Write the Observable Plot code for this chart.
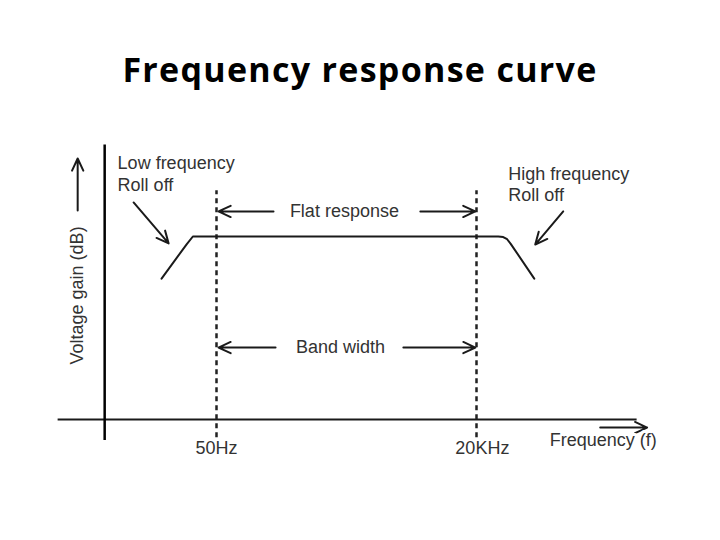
<!DOCTYPE html>
<html>
<head>
<meta charset="utf-8">
<script src="https://cdn.jsdelivr.net/npm/d3@7"></script>
<script src="https://cdn.jsdelivr.net/npm/@observablehq/plot@0.6"></script>
<style>
  html, body { margin: 0; padding: 0; background: #fff; }
  #title { height: 120px; width: 720px; box-sizing: border-box; padding-top: 47px;
    text-align: center; font-family: "Open Sans", Lato, sans-serif; font-weight: bold;
    font-size: 34px; letter-spacing: 1.3px; line-height: 44px; color: #000; }
</style>
</head>
<body>
<div id="title">Frequency response curve</div>
<div id="chart"></div>
<script>
// Response curve (frequency in Hz, relative gain units)
const curveFreq = [14.1, 25, 29, 33000, 37000, 40500, 44000, 75700];
const curveGain = [7.7, 9.56, 10, 10, 9.97, 9.85, 9.6, 7.7];

// Cut-off markers
const cutoffFreq = [50, 20000];
const cutoffLabels = ["50Hz", "20KHz"];
const cutoffLabelFreq = [50, 22900];

// Axes frame
const yAxisFreq = 3.8;
const xAxisFreq = [1.3, 810000];
const yAxisGain = [-1.15, 15];
const dashGain = [-1, 12.5];

// Annotation arrows: [freq1, gain1, freq2, gain2]
const arrowFreq1 = [7.4, 147600, 186, 5483, 195, 3707, 2.04, 346000];
const arrowGain1 = [11.86, 11.37, 11.37, 11.37, 3.93, 3.93, 11.42, -0.44];
const arrowFreq2 = [16.6, 77400, 52.4, 19450, 52.4, 19500, 2.04, 1020000];
const arrowGain2 = [9.62, 9.56, 11.37, 11.37, 3.93, 3.93, 14.26, -0.44];

// Text annotations
const noteTexts = ["Low frequency\nRoll off", "High frequency\nRoll off", "Flat response", "Band width", "Frequency (f)"];
const noteFreq = [5.12, 41600, 953, 869, 371000];
const noteGain = [13.47, 12.9, 11.37, 3.93, -1.15];
const noteAnchor = ["start", "start", "middle", "middle", "middle"];

const yLabel = "Voltage gain (dB)";
const yLabelFreq = 2.04;
const yLabelGain = 6.78;

const curve = curveFreq.map((f, i) => ({f, g: curveGain[i]}));
const arrows = arrowFreq1.map((f, i) => ({f1: f, g1: arrowGain1[i], f2: arrowFreq2[i], g2: arrowGain2[i]}));
const notes = noteTexts.map((t, i) => ({t, f: noteFreq[i], g: noteGain[i], a: noteAnchor[i]}));
const cutoffs = cutoffFreq.map((f, i) => ({f, label: cutoffLabels[i], lf: cutoffLabelFreq[i]}));

const font = "'Liberation Sans', Arial, sans-serif";
const textColor = "#333";
const ink = "#1a1a1a";

const chart = Plot.plot({
  width: 720,
  height: 420,
  margin: 0,
  x: {type: "log", domain: [50, 20000], range: [216, 476], axis: null},
  y: {domain: [0, 10], range: [299, 116], axis: null},
  marks: [
    // axes
    Plot.ruleY([0], {x1: xAxisFreq[0], x2: xAxisFreq[1], stroke: ink, strokeWidth: 2}),
    Plot.ruleX([yAxisFreq], {y1: yAxisGain[0], y2: yAxisGain[1], stroke: "#000", strokeWidth: 2.5}),
    // cutoff dashed lines
    Plot.ruleX(cutoffs, {x: "f", y1: dashGain[0], y2: dashGain[1], stroke: "#222", strokeWidth: 2.5, strokeDasharray: "5,4"}),
    // response curve
    Plot.line(curve, {x: "f", y: "g", stroke: ink, strokeWidth: 2, curve: "linear"}),
    // arrows
    Plot.arrow(arrows, {x1: "f1", y1: "g1", x2: "f2", y2: "g2", stroke: ink, strokeWidth: 2, headLength: 10, headAngle: 50}),
    // notes
    Plot.text(notes.filter(d => d.a === "start"), {x: "f", y: "g", text: "t", textAnchor: "start", fontSize: 18, lineHeight: 1.2, fill: textColor, fontFamily: font}),
    Plot.text(notes.filter(d => d.a === "middle"), {x: "f", y: "g", text: "t", textAnchor: "middle", fontSize: 18, fill: textColor, fontFamily: font, stroke: "white", strokeWidth: 6}),
    Plot.text(cutoffs, {x: "lf", y: -1.58, text: "label", fontSize: 18, fill: textColor, fontFamily: font}),
    Plot.text([yLabel], {x: yLabelFreq, y: yLabelGain, text: d => d, rotate: -90, fontSize: 18, fill: textColor, fontFamily: font})
  ]
});
document.getElementById("chart").appendChild(chart);
</script>
</body>
</html>
